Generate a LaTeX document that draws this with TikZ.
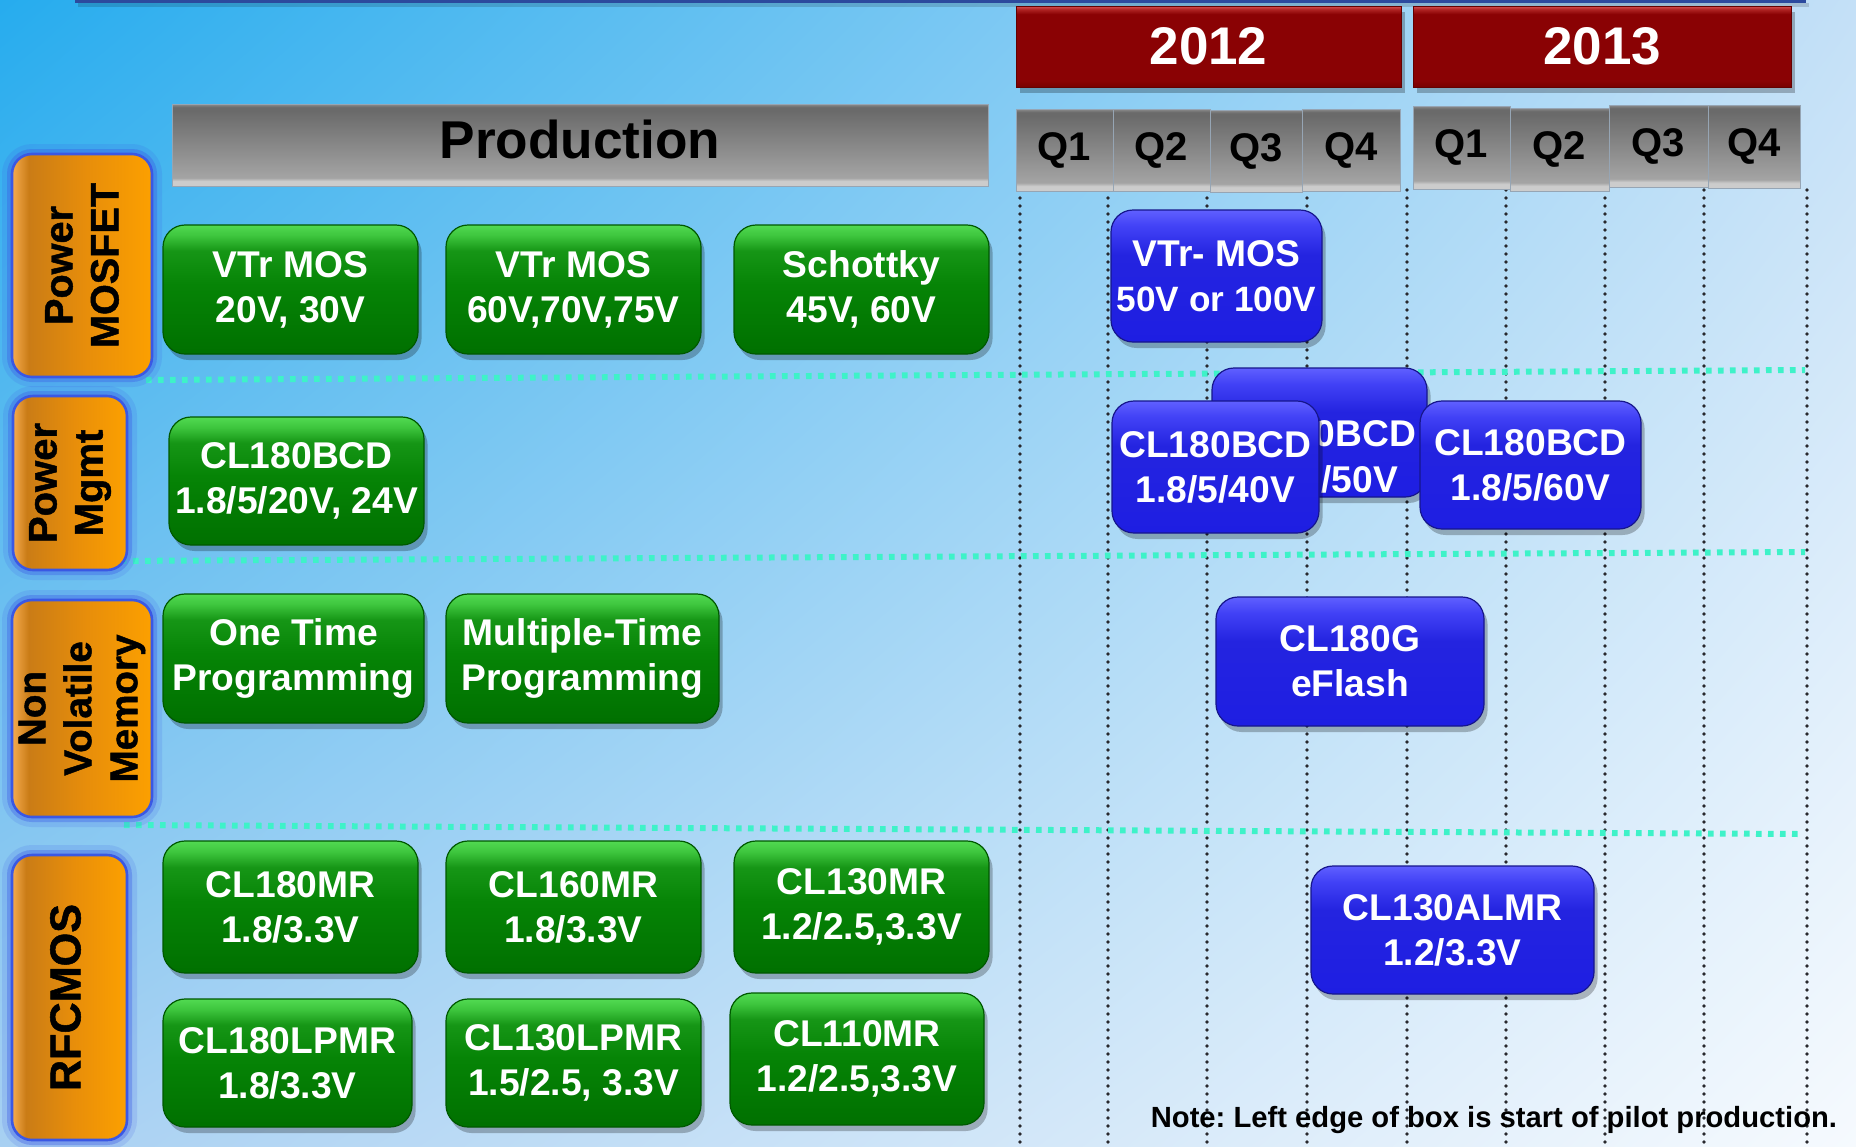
\documentclass[tikz,border=0pt]{standalone}
\usepackage{fontspec}
\setmainfont{Liberation Sans}
\newfontfamily\labelfont{Liberation Sans}[BoldFeatures={FakeBold=1.2}]
\usetikzlibrary{shadings}
\frenchspacing

% palette
\definecolor{bgTL}{RGB}{38,172,238}
\definecolor{bgTR}{RGB}{196,224,247}
\definecolor{bgBL}{RGB}{168,208,242}
\definecolor{bgBR}{RGB}{246,250,254}
\definecolor{topBlue}{RGB}{44,74,158}
\definecolor{sepTeal}{RGB}{62,242,200}
\definecolor{dotGray}{RGB}{40,40,45}
\definecolor{glowBlue}{RGB}{58,88,228}
% green tiles
\definecolor{gnBot}{RGB}{0,112,0}
\definecolor{gnMid}{RGB}{6,132,6}
\definecolor{gnMid2}{RGB}{22,150,22}
\definecolor{gnTop2}{RGB}{62,198,62}
\definecolor{gnTop}{RGB}{82,218,82}
\definecolor{gnEdge}{RGB}{0,88,0}
% blue tiles
\definecolor{buBot}{RGB}{30,30,226}
\definecolor{buMid}{RGB}{36,36,224}
\definecolor{buMid2}{RGB}{66,66,246}
\definecolor{buTop}{RGB}{96,96,255}
\definecolor{buEdge}{RGB}{22,22,140}
% orange labels
\definecolor{orL}{RGB}{246,172,80}
\definecolor{orD}{RGB}{202,124,22}
\definecolor{orM}{RGB}{232,142,10}
\definecolor{orR}{RGB}{252,160,0}
% red year bars
\definecolor{rdBot}{RGB}{120,0,0}
\definecolor{rdBody}{RGB}{138,2,4}
\definecolor{rdHi2}{RGB}{176,36,36}
\definecolor{rdHi}{RGB}{214,82,82}
\definecolor{rdEdge}{RGB}{100,0,0}
% grey header bars
\definecolor{gyBot}{RGB}{204,204,204}
\definecolor{gyLow}{RGB}{164,164,164}
\definecolor{gyTop}{RGB}{106,106,106}
\definecolor{gyEdge}{RGB}{140,140,140}
\definecolor{gyLine}{RGB}{150,165,180}

\pgfdeclareverticalshading{greenglass}{100bp}{color(0bp)=(gnBot); color(25bp)=(gnBot);
  color(52bp)=(gnMid); color(65bp)=(gnMid2); color(71bp)=(gnTop2); color(75bp)=(gnTop); color(100bp)=(gnTop)}
\pgfdeclareverticalshading{blueglass}{100bp}{color(0bp)=(buBot); color(25bp)=(buBot);
  color(58bp)=(buMid); color(69bp)=(buMid2); color(75bp)=(buTop); color(100bp)=(buTop)}
\pgfdeclarehorizontalshading{orangeglass}{100bp}{color(0bp)=(orL); color(25bp)=(orL);
  color(31bp)=(orD); color(52bp)=(orM); color(75bp)=(orR); color(100bp)=(orR)}
\pgfdeclareverticalshading{redglass}{100bp}{color(0bp)=(rdBot); color(25bp)=(rdBot);
  color(29bp)=(rdBody); color(70bp)=(rdBody); color(73bp)=(rdHi2); color(75bp)=(rdHi); color(100bp)=(rdHi)}
\pgfdeclareverticalshading{grayglass}{100bp}{color(0bp)=(gyBot); color(25bp)=(gyBot);
  color(28bp)=(gyBot); color(30bp)=(gyLow); color(71bp)=(gyTop); color(73bp)=(gyTop);
  color(75bp)=(gyEdge); color(100bp)=(gyEdge)}

\newcommand\tilefont{\bfseries\fontsize{18.6}{22.5}\selectfont}
\newcommand\rowfont[1]{\labelfont\bfseries\fontsize{#1}{23}\selectfont}

% a tile given by its corners in pixel units
\newcommand\Tile[7]{%
  \node[#1, minimum width={(#5-#3)*0.5pt}, minimum height={(#6-#4)*0.5pt}]
    (#2) at ({(#3+#5)/2},{(#4+#6)/2}) {#7};}

\begin{document}
\begin{tikzpicture}[x=0.5pt, y=-0.5pt,
  every node/.style={inner sep=0pt, outer sep=0pt},
  softshadow/.style={preaction={fill=black, opacity=0.25,
      transform canvas={shift={(1.8pt,-3pt)}}}},
  tile/.style={rectangle, rounded corners=11pt, align=center, text=white,
      font=\tilefont, softshadow},
  greenbox/.style={tile, shade, shading=greenglass, draw=gnEdge, line width=0.6pt},
  bluebox/.style={tile, shade, shading=blueglass, draw=buEdge, line width=0.6pt},
  rowbox/.style={rectangle, rounded corners=10pt, shade, shading=orangeglass,
      draw=glowBlue, line width=1.3pt,
      preaction={draw=glowBlue, draw opacity=0.15, line width=10pt},
      preaction={draw=glowBlue, draw opacity=0.35, line width=5pt}},
  rlabel/.style={rotate=90, align=center, text=black},
  yearbox/.style={rectangle, shade, shading=redglass, draw=rdEdge, line width=0.5pt,
      text=white, font=\bfseries\fontsize{26.5}{30}\selectfont, softshadow},
  qbox/.style={rectangle, shade, shading=grayglass, draw=gyLine, line width=0.5pt,
      text=black, font=\bfseries\fontsize{20}{24}\selectfont},
  prodbox/.style={rectangle, shade, shading=grayglass, draw=gyLine, line width=0.5pt},
  gridline/.style={draw=dotGray, line width=1.9pt, line cap=round,
      dash pattern=on 0pt off 4pt},
  sepline/.style={draw=sepTeal, line width=3pt, dash pattern=on 2.8pt off 3.2pt},
  hiddentext/.style={anchor=east, text=white, font=\tilefont},
]
\useasboundingbox (0,0) rectangle (1856,1146);

% backdrop
\shade[upper left=bgTL, upper right=bgTR, lower left=bgBL, lower right=bgBR]
  (0,0) rectangle (1856,1146);
\fill[black, opacity=0.15] (78,3) rectangle (1809,7);
\fill[topBlue] (75,-8) rectangle (1806,3);

% quarter grid
\foreach \x in {1020,1108,1207,1307,1407,1506,1605,1704,1807}
  \draw[gridline] (\x,190) -- (\x,1146);

% row separators
\draw[sepline] (146,380) -- (1805,370);
\draw[sepline] (109,561) -- (1805,552);
\draw[sepline] (124,825) -- (1800,834);

% header
\Tile{prodbox}{prod}{172}{104}{988}{186}{}
\node[text=black, font=\bfseries\fontsize{26.6}{30}\selectfont] (prodt) at (580,139) {Production};
\Tile{yearbox}{y2012}{1016}{6}{1401}{87}{2012}
\Tile{yearbox}{y2013}{1413}{6}{1791}{87}{2013}
\Tile{qbox}{qa1}{1016}{109}{1113}{191}{Q1}
\Tile{qbox}{qa2}{1113}{109}{1210}{191}{Q2}
\Tile{qbox}{qa3}{1210}{110}{1302}{192}{Q3}
\Tile{qbox}{qa4}{1302}{109}{1400}{191}{Q4}
\Tile{qbox}{qb1}{1413}{106}{1510}{189}{Q1}
\Tile{qbox}{qb2}{1510}{108}{1609}{191}{Q2}
\Tile{qbox}{qb3}{1609}{105}{1708}{187}{Q3}
\Tile{qbox}{qb4}{1708}{105}{1800}{188}{Q4}

% row labels
\Tile{rowbox}{rl1}{12}{154}{152}{377}{}
\node[rlabel, font=\rowfont{19.8}] (rl1t) at (rl1.center) {Power\\MOSFET};
\Tile{rowbox}{rl2}{13}{396}{127}{570}{}
\node[rlabel, font=\rowfont{20}] (rl2t) at (rl2.center) {Power\\Mgmt};
\Tile{rowbox}{rl3}{12}{600}{152}{817}{}
\node[rlabel, font=\rowfont{19.3}] (rl3t) at (rl3.center) {Non\\Volatile\\Memory};
\Tile{rowbox}{rl4}{12}{855}{127}{1140}{}
\node[rlabel, font=\rowfont{21.6}] (rl4t) at ([xshift=-2pt]rl4.center) {RFCMOS};

% processes in production
\Tile{greenbox}{g11}{163}{225}{418}{354}{VTr MOS\\20V, 30V}
\Tile{greenbox}{g12}{446}{225}{701}{354}{VTr MOS\\60V,70V,75V}
\Tile{greenbox}{g13}{734}{225}{989}{354}{Schottky\\45V, 60V}
\Tile{greenbox}{g21}{169}{417}{424}{545}{CL180BCD\\1.8/5/20V, 24V}
\Tile{greenbox}{g31}{163}{594}{424}{723}{One Time\\Programming}
\Tile{greenbox}{g32}{446}{594}{719}{723}{Multiple-Time\\Programming}
\Tile{greenbox}{g41}{163}{841}{418}{973}{CL180MR\\1.8/3.3V}
\Tile{greenbox}{g42}{446}{841}{701}{973}{CL160MR\\1.8/3.3V}
\Tile{greenbox}{g43}{734}{841}{989}{973}{CL130MR\\1.2/2.5,3.3V}
\Tile{greenbox}{g51}{163}{999}{412}{1127}{CL180LPMR\\1.8/3.3V}
\Tile{greenbox}{g52}{446}{999}{701}{1127}{CL130LPMR\\1.5/2.5, 3.3V}
\Tile{greenbox}{g53}{730}{993}{984}{1125}{CL110MR\\1.2/2.5,3.3V}

% roadmap processes
\Tile{bluebox}{b1}{1111}{210}{1322}{342}{VTr- MOS\\{\fontsize{17.6}{22.5}\selectfont 50V or 100V}}
\Tile{bluebox}{b2}{1212}{368}{1427}{497}{}
\node[hiddentext] (b2a) at (1416,434) {0BCD};
\node[hiddentext] (b2b) at (1398,479) {/50V};
\Tile{bluebox}{b3}{1112}{401}{1319}{533}{CL180BCD\\1.8/5/40V}
\Tile{bluebox}{b4}{1420}{401}{1641}{529}{CL180BCD\\1.8/5/60V}
\Tile{bluebox}{b5}{1216}{597}{1484}{726}{CL180G\\eFlash}
\Tile{bluebox}{b6}{1311}{866}{1594}{994}{CL130ALMR\\1.2/3.3V}

\node[anchor=base east, text=black, font=\bfseries\fontsize{14.6}{17}\selectfont]
  (note) at (1837,1127) {Note: Left edge of box is start of pilot production.};
\end{tikzpicture}
\end{document}
